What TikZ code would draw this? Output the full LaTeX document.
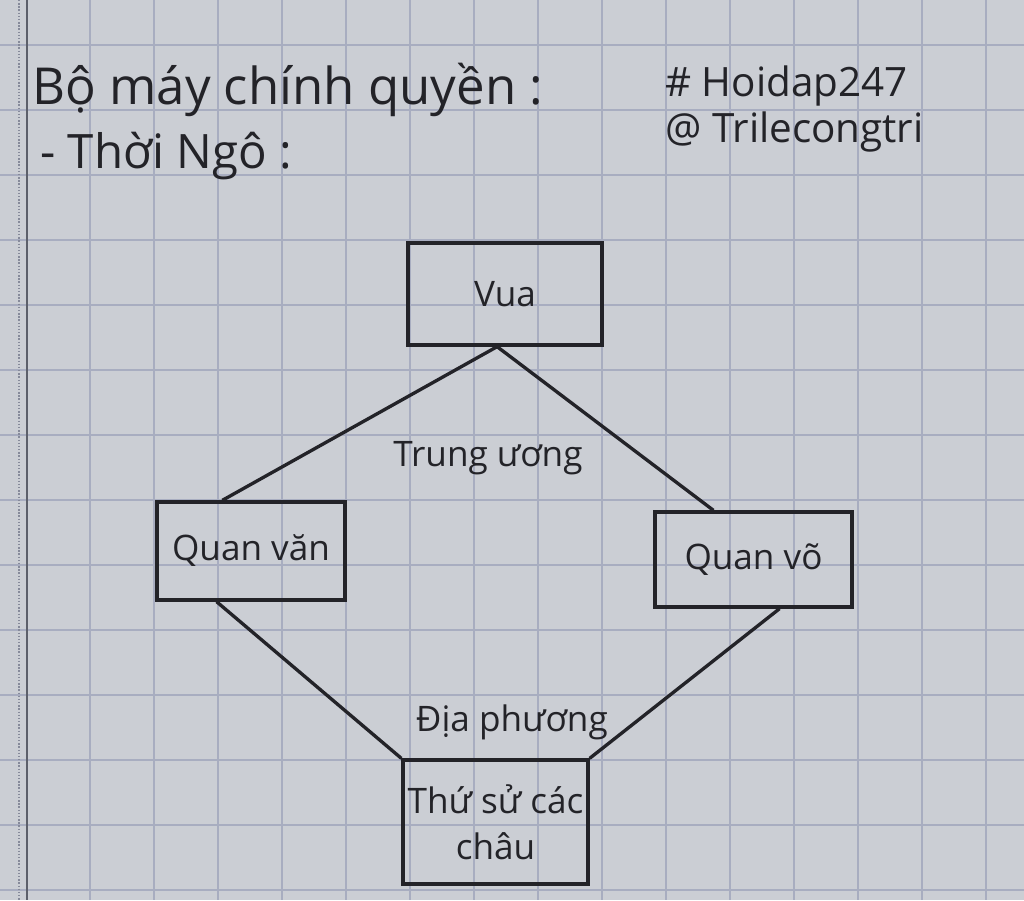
\documentclass[tikz,border=0pt]{standalone}
\usepackage{fontspec}
\setmainfont{Open Sans}
\usetikzlibrary{calc}
\definecolor{paper}{RGB}{203,206,212}
\definecolor{gridline}{RGB}{168,173,192}
\definecolor{ink}{RGB}{35,35,40}

\begin{document}
\begin{tikzpicture}[x=0.02cm, y=-0.02cm,
    box/.style={draw=ink, line width=1.9pt, text=ink, font=\fontsize{20}{26}\selectfont, align=center, inner sep=0pt},
    conn/.style={draw=ink, line width=1.9pt},
    lbl/.style={text=ink, font=\fontsize{20}{24}\selectfont},
    hand/.style={text=ink, anchor=base west, inner sep=0pt}]
    % paper
    \fill[paper] (0, 0) rectangle (1024, 900);
    \useasboundingbox (0, 0) rectangle (1024, 900);
    \foreach \gx in {90, 154, ..., 1000} \draw[gridline, line width=0.9pt] (\gx, 0) -- (\gx, 900);
    \foreach \gy in {45, 110, ..., 900} \draw[gridline, line width=0.9pt] (0, \gy) -- (1024, \gy);
    \draw[gridline!55!black, line width=1.4pt] (27, 0) -- (27, 900);
    \draw[gridline!80!black, line width=0.8pt, densely dotted] (19, 0) -- (19, 900);
    % heading
    \node[hand, font=\fontsize{29}{34}\selectfont] (title) at (32, 104) {Bộ máy chính quyền :};
    \node[hand, font=\fontsize{27}{32}\selectfont] (thoingo) at (40, 168) {- Thời Ngô :};
    \node[hand, font=\fontsize{23}{28}\selectfont] (tag) at (665, 96) {\# Hoidap247};
    \node[hand, font=\fontsize{23}{28}\selectfont] (author) at (665, 142) {@ Trilecongtri};
    % boxes
    \node[box, minimum width=3.88cm, minimum height=2.04cm] (vua) at (505, 294) {Vua};
    \node[box, minimum width=3.76cm, minimum height=1.96cm] (quanvan) at (251, 551) {Quan văn};
    \node[box, minimum width=3.94cm, minimum height=1.9cm] (quanvo) at (753.5, 559.5) {Quan võ};
    \node[box, minimum width=3.7cm, minimum height=2.48cm] (thusu) at (495.5, 822) {Thứ sử các\\châu};
    \node[lbl] (trunguong) at (488, 458) {Trung ương};
    \node[lbl] (diaphuong) at (512, 722) {Địa phương};
    % connectors
    \draw[conn] ($(vua.south west)!0.46!(vua.south east)$) -- ($(quanvan.north west)!0.35!(quanvan.north east)$);
    \draw[conn] ($(vua.south west)!0.46!(vua.south east)$) -- ($(quanvo.north west)!0.30!(quanvo.north east)$);
    \draw[conn] ($(quanvan.south west)!0.32!(quanvan.south east)$) -- (thusu.north west);
    \draw[conn] ($(quanvo.south west)!0.63!(quanvo.south east)$) -- (thusu.north east);
\end{tikzpicture}
\end{document}
